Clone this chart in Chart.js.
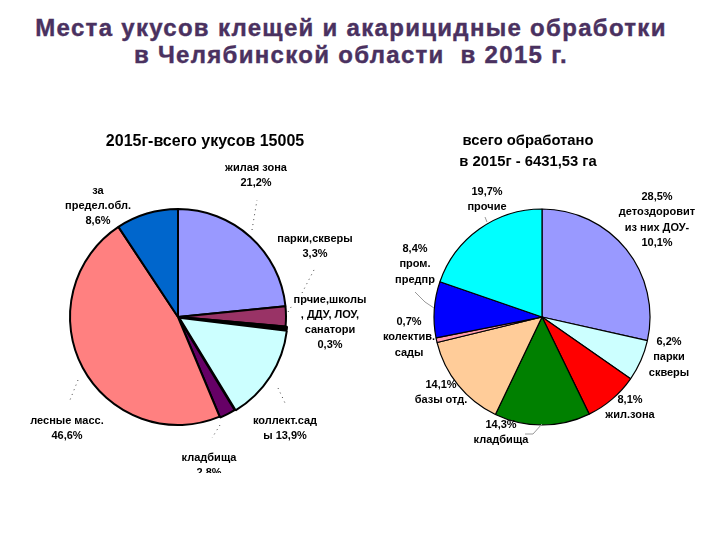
<!DOCTYPE html>
<html lang="ru">
<head>
<meta charset="utf-8">
<title>Места укусов клещей</title>
<script src="https://cdn.jsdelivr.net/npm/chart.js@4"></script>
<style>
  html,body{margin:0;padding:0;background:#fff;}
  body{position:relative;width:720px;height:540px;overflow:hidden;font-family:"Liberation Sans",Arial,sans-serif;}
  .head{position:absolute;left:0;width:702px;text-align:center;font-weight:bold;font-size:24px;letter-spacing:1.3px;color:#4a3160;-webkit-text-stroke:0.4px #4a3160;white-space:pre;line-height:26px;}
  canvas{position:absolute;}
  #bites{left:0;top:120px;}
  #treated{left:370px;top:120px;}
</style>
</head>
<body>
<div class="head" style="top:15px">Места укусов клещей и акарицидные обработки</div>
<div class="head" style="top:42px">в Челябинской области  в 2015 г.</div>
<canvas id="bites" width="370" height="353"></canvas>
<canvas id="treated" width="350" height="340"></canvas>
<script>
// Left pie. Shares are read from the drawn slice angles, the printed labels don't add up to 100
const biteCategories = ['жилая зона','парки,скверы','прочие,школы, ДДУ, ЛОУ, санатори','коллект.сады','кладбища','лесные масс.','за предел.обл.'];
const biteShares = [23.4, 3.0, 0.5, 14.4, 2.4, 47.0, 9.3];
const biteColors = ['#9999ff','#993366','#000000','#ccffff','#660066','#ff8080','#0066cc'];
const biteOffsets = [0, 0, 3, 6, 2, 0, 0];
const biteLabels = [
  ['жилая зона','21,2%'],
  ['парки,скверы','3,3%'],
  ['прчие,школы',', ДДУ, ЛОУ,','санатори','0,3%'],
  ['коллект.сад','ы 13,9%'],
  ['кладбища','2,8%'],
  ['лесные масс.','46,6%'],
  ['за','предел.обл.','8,6%']
];
const biteLabelSpots = [[256,48],[315,119],[330,180],[285,301],[209,338],[67,301],[98,71]];
const biteGuides = [
  [[252,110],[257,80]],
  [[302,173],[315,148]],
  [[288,192],[293,184]],
  [[278,268],[285,283]],
  [[220,305],[212,318]],
  [[78,260],[70,280]]
];

// Right pie
const areaCategories = ['детоздоровит','парки скверы','жил.зона','кладбища','базы отд.','колектив. сады','пром. предпр','прочие'];
const areaShares = [28.5, 6.2, 8.1, 14.3, 14.1, 0.7, 8.4, 19.7];
const areaColors = ['#9999ff','#ccffff','#ff0000','#008000','#ffcc99','#ff99aa','#0000ff','#00ffff'];
const areaLabels = [
  ['28,5%','детоздоровит','из них ДОУ-','10,1%'],
  ['6,2%','парки','скверы'],
  ['8,1%','жил.зона'],
  ['14,3%','кладбища'],
  ['14,1%','базы отд.'],
  ['0,7%','колектив.','сады'],
  ['8,4%','пром.','предпр'],
  ['19,7%','прочие']
];
const areaLabelSpots = [[287,77],[299,222],[260,280],[131,305],[71,265],[39,202],[45,129],[117,72]];
const areaGuides = [
  [[172,304],[163,314],[155,314]],
  [[115,97],[117,102]],
  [[45,172],[55,182],[64,188]]
];

// Text and leader lines drawn on top of the pie
const notesPlugin = {
  id:'notes',
  afterDraw(chart, args, opts){
    const ctx = chart.ctx;
    ctx.save();
    ctx.textAlign='center'; ctx.textBaseline='middle'; ctx.fillStyle='#000';
    // title
    ctx.font = opts.titleFont;
    opts.title.forEach((t,i)=> ctx.fillText(t, opts.titleX, opts.titleY + i*opts.titleStep));
    // leaders
    ctx.strokeStyle = opts.guideColor; ctx.lineWidth = 1; ctx.setLineDash(opts.guideDash);
    opts.guides.forEach(g=>{
      ctx.beginPath();
      g.forEach((p,i)=> i ? ctx.lineTo(p[0],p[1]) : ctx.moveTo(p[0],p[1]));
      ctx.stroke();
    });
    ctx.setLineDash([]);
    // labels
    ctx.font = opts.labelFont;
    opts.labels.forEach((lines,i)=>{
      const s = opts.spots[i];
      lines.forEach((l,j)=> ctx.fillText(l, s[0], s[1] + j*opts.labelStep));
    });
    ctx.restore();
  }
};

function drawPie(id, cats, vals, colors, offsets, border, pad, notes){
  return new Chart(document.getElementById(id).getContext('2d'),{
    type:'pie',
    data:{ labels:cats, datasets:[{ data:vals, backgroundColor:colors, borderColor:'#000', borderWidth:border, offset:offsets, radius:108 }] },
    options:{
      responsive:false, animation:false, devicePixelRatio:1,
      layout:{ padding:pad },
      plugins:{ legend:{display:false}, tooltip:{enabled:false}, notes:notes }
    },
    plugins:[notesPlugin]
  });
}

drawPie('bites', biteCategories, biteShares, biteColors, biteOffsets, 2, {top:41,left:0,right:14,bottom:0},{
  title:['2015г-всего укусов 15005'], titleX:205, titleY:22, titleStep:0, titleFont:'bold 16px "Liberation Sans"',
  labels:biteLabels, spots:biteLabelSpots, labelStep:15, labelFont:'bold 11px "Liberation Sans"',
  guides:biteGuides, guideColor:'#444', guideDash:[1,4]
});
drawPie('treated', areaCategories, areaShares, areaColors, 0, 1.2, {top:54,left:0,right:6,bottom:0},{
  title:['всего обработано','в 2015г - 6431,53 га'], titleX:158, titleY:21, titleStep:20.5, titleFont:'bold 14.8px "Liberation Sans"',
  labels:areaLabels, spots:areaLabelSpots, labelStep:15.4, labelFont:'bold 11px "Liberation Sans"',
  guides:areaGuides, guideColor:'#999', guideDash:[]
});
</script>
</body>
</html>
